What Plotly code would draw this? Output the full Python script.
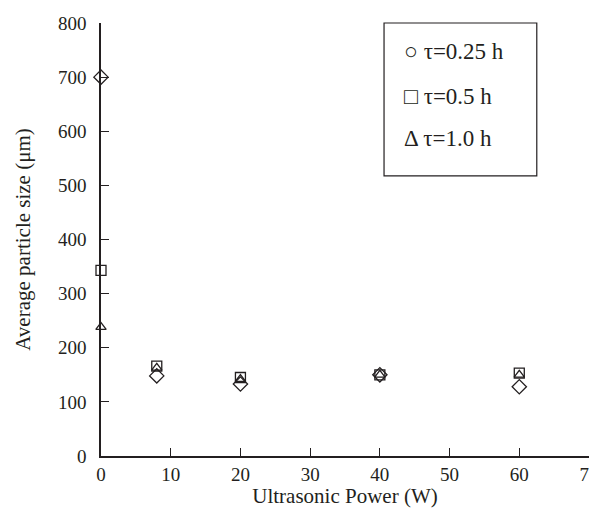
import plotly.graph_objects as go

power = [0, 8, 20, 40, 60]
size_025 = [700, 148, 133, 150, 128]
size_05 = [343, 166, 145, 150, 153]
size_10 = [238, 163, 142, 150, 150]

x_ticks = [0, 10, 20, 30, 40, 50, 60, 70]
y_ticks = [0, 100, 200, 300, 400, 500, 600, 700, 800]

legend_lines = ["○ τ=0.25 h", "□ τ=0.5 h", "Δ τ=1.0 h"]
legend_y = [0.935, 0.831, 0.734]

font_family = "Liberation Serif, Times New Roman, serif"
ink = "#231f20"

fig = go.Figure()
fig.add_trace(go.Scatter(x=power, y=size_025, mode="markers", name=legend_lines[0],
                         marker=dict(symbol="diamond-open", size=11, color=ink, line=dict(width=1.3)),
                         cliponaxis=False))
fig.add_trace(go.Scatter(x=power, y=size_05, mode="markers", name=legend_lines[1],
                         marker=dict(symbol="square-open", size=10, color=ink, line=dict(width=1.3)),
                         cliponaxis=False))
fig.add_trace(go.Scatter(x=power, y=size_10, mode="markers", name=legend_lines[2],
                         marker=dict(symbol="triangle-up-open", size=9, color=ink, line=dict(width=1.3)),
                         cliponaxis=False))

# legend box drawn as a framed text block
fig.add_shape(type="rect", xref="paper", yref="paper", x0=0.580, x1=0.893, y0=0.647, y1=1.0,
              line=dict(color=ink, width=1.2), fillcolor="white", layer="above")
for txt, yy in zip(legend_lines, legend_y):
    fig.add_annotation(xref="paper", yref="paper", x=0.617, y=yy, xanchor="left", yanchor="middle",
                       text=txt, showarrow=False, align="left",
                       font=dict(family=font_family, size=23, color=ink))

# page body has an 8px margin; the figure is sized so the page does not scroll
fig.update_layout(
    width=589, height=500,
    margin=dict(l=93, r=8, t=15, b=52, autoexpand=False),
    paper_bgcolor="white", plot_bgcolor="white",
    showlegend=False,
    font=dict(family=font_family, size=19, color=ink),
    xaxis=dict(range=[0, 70], tickvals=x_ticks, ticks="inside", ticklen=8, tickwidth=1.3,
               tickcolor=ink, showline=True, linecolor=ink, linewidth=1.5, showgrid=False,
               zeroline=False, tickfont=dict(size=19), automargin=False,
               ticklabeloverflow="allow",
               title=dict(text="Ultrasonic Power (W)", font=dict(size=21), standoff=5)),
    yaxis=dict(range=[0, 800], tickvals=y_ticks, ticks="inside", ticklen=8, tickwidth=1.3,
               tickcolor=ink, showline=True, linecolor=ink, linewidth=1.5, showgrid=False,
               zeroline=False, tickfont=dict(size=19), ticklabelstandoff=9, automargin=False,
               title=dict(text="Average particle size (μm)", font=dict(size=21), standoff=22)),
)

fig.write_html("out.html")
